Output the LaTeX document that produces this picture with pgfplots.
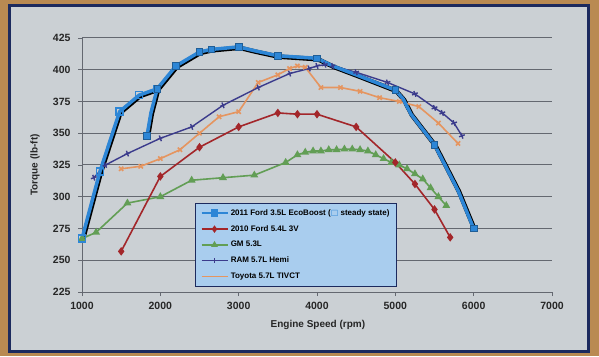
\documentclass[border=0pt]{standalone}
\usepackage{pgfplots}
\pgfplotsset{compat=1.18}
\usepackage{fontspec}
\setmainfont{Liberation Sans}
\newfontfamily\dejavu{DejaVu Sans}
\definecolor{ecoblue}{HTML}{2D86D6}
\definecolor{fordred}{HTML}{A3262A}
\definecolor{gmgreen}{HTML}{629E55}
\definecolor{ramblue}{HTML}{3B3B8C}
\definecolor{toyo}{HTML}{E59560}
\definecolor{bg}{HTML}{CBD0D4}
\definecolor{wall}{HTML}{B98A52}
\definecolor{navy}{HTML}{1C2A5E}
\definecolor{legbg}{HTML}{A9CDEE}
\definecolor{gridc}{HTML}{646870}
\begin{document}
\begin{tikzpicture}
\fill[wall] (0pt,0pt) rectangle (599pt,356pt);
\fill[navy] (8pt,3pt) rectangle (590pt,352pt);
\fill[bg] (11pt,6pt) rectangle (587pt,349pt);
\begin{axis}[
  at={(82pt,64pt)}, anchor=south west,
  scale only axis, width=470pt, height=254pt,
  xmin=1000, xmax=7000, ymin=225, ymax=425,
  xtick={1000,2000,...,7000}, ytick={225,250,...,425},
  axis x line*=bottom, axis y line*=left,
  axis line style={gridc, line width=0.8pt, -},
  ymajorgrids, grid style={gridc, line width=1pt},
  tick align=outside, major tick length=4pt,
  tick style={gridc, line width=0.8pt},
  /pgf/number format/assume math mode=true,
  /pgf/number format/set thousands separator={},
  tick label style={font=\bfseries\fontsize{10.5}{12}\selectfont, text=black!85},
  xticklabel style={yshift=-3pt},
  yticklabel style={xshift=-4pt},
  xlabel={Engine Speed (rpm)}, ylabel={Torque (lb-ft)},
  label style={font=\bfseries\fontsize{10}{12}\selectfont, text=black!85},
  xlabel style={at={(rel axis cs:0.502,-0.13)}, anchor=center},
  ylabel style={at={(rel axis cs:-0.1,0.5)}, anchor=center, rotate=0},
  legend style={at={(rel axis cs:0.240,0.350)}, anchor=north west,
    fill=legbg, draw=navy, line width=0.9pt,
    font=\bfseries\fontsize{8}{9.5}\selectfont, row sep=4.6pt,
    inner xsep=5pt, inner ysep=4pt},
  legend cell align=left,
  legend image code/.code={\draw[mark repeat=2,mark phase=2,#1] plot coordinates {(0pt,0pt) (13pt,0pt) (26pt,0pt)};},
  clip=false,
]
% EcoBoost shadows
\addplot[black, line width=4.5pt, xshift=0.9pt, yshift=-0.9pt, forget plot] coordinates {
(1000,267) (1230,320) (1480,367) (1730,380) (1960,385)};
\addplot[black, line width=4.5pt, xshift=0.9pt, yshift=-0.9pt, forget plot] coordinates {
(1830,348) (1880,366) (1960,385) (2200,403) (2500,414) (2650,416) (3000,418) (3200,415) (3500,411) (4000,409) (4200,403) (4500,396) (5000,384) (5100,377) (5200,365) (5500,341) (5800,305) (6000,275)};
% GM
\addplot[gmgreen, line width=1.6pt, mark=triangle*, mark size=3pt, mark options={solid, fill=gmgreen}, forget plot] coordinates {
(1000,267) (1180,272) (1580,295) (2000,300) (2400,313) (2800,315) (3200,317) (3600,327) (3750,333) (3850,335) (3950,336) (4050,336) (4150,337) (4250,337) (4350,337.5) (4450,337.5) (4550,337) (4650,336) (4750,333) (4850,330) (4950,327) (5050,325) (5150,322) (5250,318) (5350,314) (5450,307) (5550,300) (5650,293)};
% Ford 5.4
\addplot[fordred, line width=1.6pt, mark=diamond*, mark size=3pt, mark options={solid, fill=fordred}, forget plot] coordinates {
(1500,257) (2000,316) (2500,339) (3000,355) (3500,366) (3750,365) (4000,365) (4500,355) (5000,327) (5250,310) (5500,290) (5700,268)};
% Toyota
\addplot[toyo, line width=1.6pt, mark=x, mark size=3pt, mark options={solid}, forget plot] coordinates {
(1500,322) (1750,324) (2000,330) (2250,337) (2500,350) (2750,363) (3000,367) (3250,390) (3500,396) (3650,401) (3750,403) (3850,402) (4050,386) (4300,386) (4550,383) (4800,378) (5050,375) (5300,371) (5550,358) (5800,342)};
% RAM
\addplot[ramblue, line width=1.4pt, mark=+, mark size=3pt, mark options={solid, rotate=20}, forget plot] coordinates {
(1150,315) (1300,325) (1580,334) (2000,346) (2400,355) (2800,372) (3250,386) (3650,397) (3900,401) (4000,403) (4100,404) (4200,403) (4500,398) (4900,390) (5250,381) (5500,370) (5600,366) (5750,358) (5850,348)};
% EcoBoost
\addplot[ecoblue, line width=3.5pt, mark=square, mark size=3.5pt, mark options={solid, line width=1.5pt, draw=ecoblue, fill=bg}, forget plot] coordinates {
(1000,267) (1230,320) (1480,367) (1730,380) (1960,385)};
\addplot[ecoblue, line width=3.5pt, mark=square*, mark size=3.3pt, mark indices={1,3,4,5,6,7,9,10,13,16,18}, mark options={solid, fill=ecoblue, draw=ecoblue!70!black, line width=0.8pt}, forget plot] coordinates {
(1830,348) (1880,366) (1960,385) (2200,403) (2500,414) (2650,416) (3000,418) (3200,415) (3500,411) (4000,409) (4200,403) (4500,396) (5000,384) (5100,377) (5200,365) (5500,341) (5800,305) (6000,275)};
% legend entries
\addlegendimage{ecoblue, line width=2.5pt, mark=square*, mark size=2.5pt, mark options={fill=ecoblue}}
\addlegendentry{2011 Ford 3.5L EcoBoost ({\dejavu\textcolor{ecoblue}{□}} steady state)\hspace{42pt}}
\addlegendimage{fordred, line width=1.5pt, mark=diamond*, mark size=2.5pt}
\addlegendentry{2010 Ford 5.4L 3V}
\addlegendimage{gmgreen, line width=1.5pt, mark=triangle*, mark size=2.5pt}
\addlegendentry{GM 5.3L}
\addlegendimage{ramblue, line width=1.5pt, mark=+, mark size=2.5pt}
\addlegendentry{RAM 5.7L Hemi}
\addlegendimage{toyo, line width=1.5pt}
\addlegendentry{Toyota 5.7L TIVCT}
\end{axis}
\end{tikzpicture}
\end{document}
